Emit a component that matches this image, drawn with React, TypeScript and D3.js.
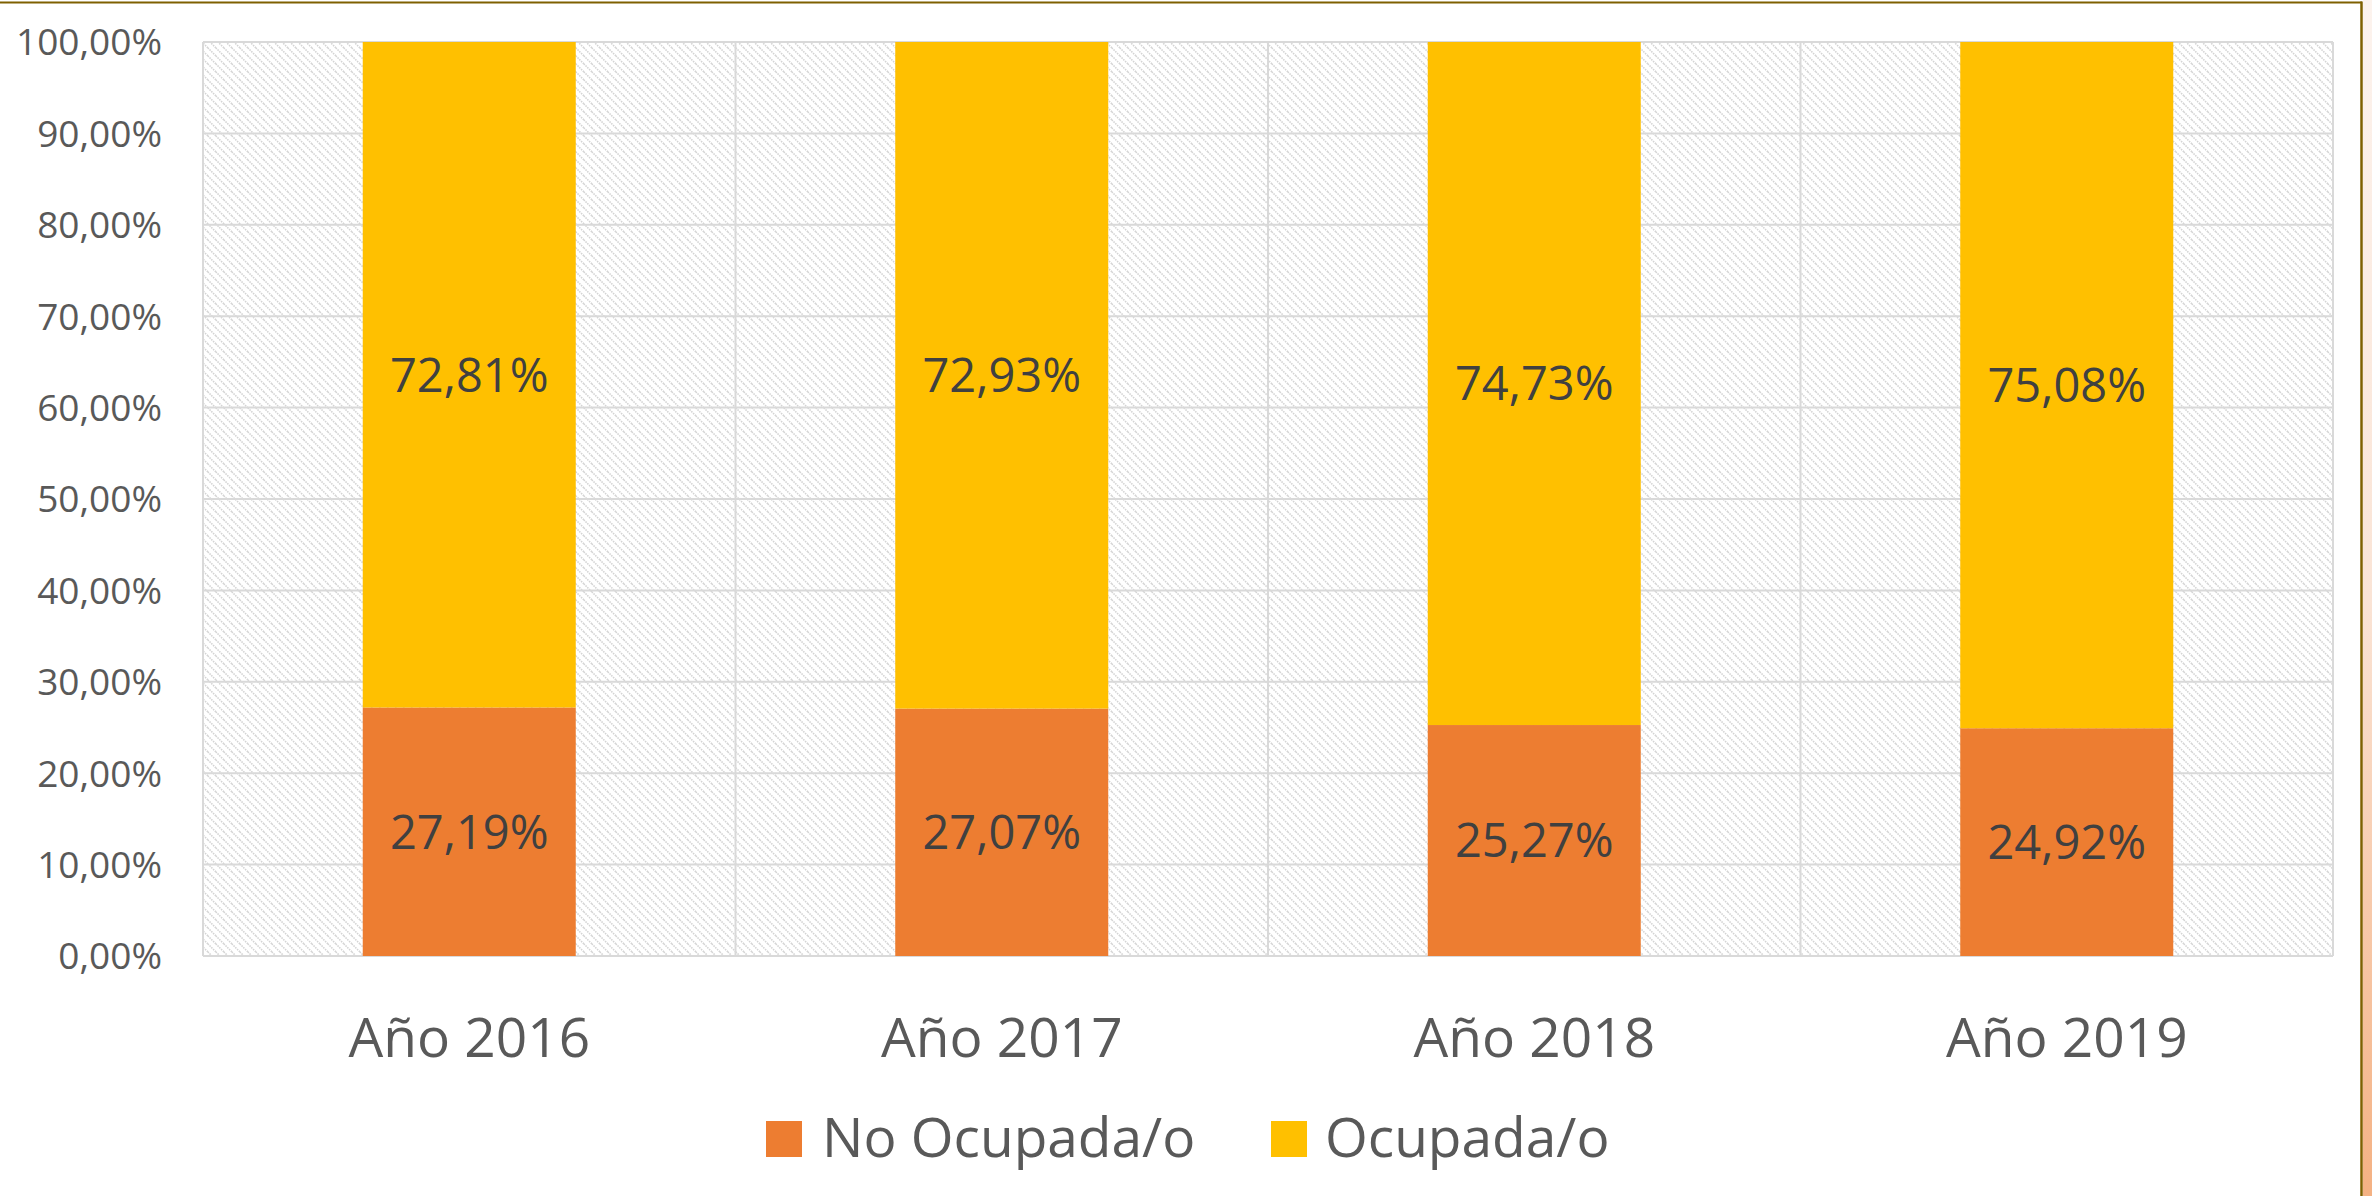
import React from "react";
import * as d3 from "d3";

const categories = ["Año 2016", "Año 2017", "Año 2018", "Año 2019"];
const noOcupada = [27.19, 27.07, 25.27, 24.92];
const ocupada = [72.81, 72.93, 74.73, 75.08];
const yTicks = [0, 10, 20, 30, 40, 50, 60, 70, 80, 90, 100];
const seriesNames = ["No Ocupada/o", "Ocupada/o"];

const W = 2372;
const H = 1196;
const plot = { left: 203, right: 2333, top: 42, bottom: 956 };
const COLORS = ["#ED7D31", "#FFC000"];
const FONT = "'Open Sans', sans-serif";

const fmt = (v: number) => v.toFixed(2).replace(".", ",") + "%";

export default function App() {
  const x = d3.scaleBand<string>().domain(categories).range([plot.left, plot.right]).paddingInner(0.6).paddingOuter(0.3);
  const xb = d3.scaleBand<string>().domain(categories).range([plot.left, plot.right]);
  const y = d3.scaleLinear().domain([0, 100]).range([plot.bottom, plot.top]);

  const stackData = categories.map((c, i) => ({ cat: c, a: noOcupada[i], b: ocupada[i] }));
  const stack = d3.stack<any>().keys(["a", "b"])(stackData);
  const values = [noOcupada, ocupada];

  return (
    <svg width={W} height={H} style={{ position: "absolute", left: 0, top: 0, background: "#fff" }}>
      <defs>
        <pattern id="hatch" patternUnits="userSpaceOnUse" width="8" height="8">
          <path d="M-2,-2 L10,10 M-2,6 L2,10 M6,-2 L10,2" stroke="#d4d4d4" strokeWidth="1.6" strokeDasharray="1.5 1" />
        </pattern>
        <linearGradient id="peach" x1="0" y1="0" x2="0" y2="1">
          <stop offset="0" stopColor="#fcf3ee" />
          <stop offset="0.5" stopColor="#fae4d6" />
          <stop offset="1" stopColor="#f4b183" />
        </linearGradient>
      </defs>
      <rect x={0} y={0} width={W} height={H} fill="#fff" />
      {/* outer frame */}
      <rect x={2363} y={0} width={9} height={H} fill="url(#peach)" />
      <line x1={0} x2={2362} y1={2.5} y2={2.5} stroke="#7f6000" strokeWidth={2} />
      <line x1={2361.5} x2={2361.5} y1={1.5} y2={H} stroke="#7f6000" strokeWidth={2.5} />

      {/* plot background */}
      <rect x={plot.left} y={plot.top} width={plot.right - plot.left} height={plot.bottom - plot.top} fill="url(#hatch)" />
      {yTicks.map((t) => (
        <line key={"g" + t} x1={plot.left} x2={plot.right} y1={y(t)} y2={y(t)} stroke="#d9d9d9" strokeWidth={2} />
      ))}
      {categories.map((c, i) => (
        <line key={"v" + i} x1={xb(c)!} x2={xb(c)!} y1={plot.top} y2={plot.bottom} stroke="#d9d9d9" strokeWidth={2} />
      ))}
      <line x1={plot.right} x2={plot.right} y1={plot.top} y2={plot.bottom} stroke="#d9d9d9" strokeWidth={2} />

      {/* bars */}
      {stack.map((s, si) =>
        s.map((d: any, i: number) => (
          <rect
            key={si + "-" + i}
            x={x(categories[i])!}
            width={x.bandwidth()}
            y={y(d[1])}
            height={y(d[0]) - y(d[1])}
            fill={COLORS[si]}
          />
        ))
      )}
      {/* data labels */}
      {stack.map((s, si) =>
        s.map((d: any, i: number) => (
          <text
            key={"l" + si + "-" + i}
            x={x(categories[i])! + x.bandwidth() / 2}
            y={(y(d[0]) + y(d[1])) / 2}
            dy="0.36em"
            textAnchor="middle"
            fontFamily={FONT}
            fontSize={47}
            fill="#404040"
          >
            {fmt(values[si][i])}
          </text>
        ))
      )}

      {/* y axis labels */}
      {yTicks.map((t) => (
        <text key={"y" + t} x={162} y={y(t)} dy="0.36em" textAnchor="end" fontFamily={FONT} fontSize={37} fill="#595959">
          {fmt(t)}
        </text>
      ))}
      {/* x axis labels */}
      {categories.map((c) => (
        <text key={"x" + c} x={xb(c)! + xb.bandwidth() / 2} y={1057} textAnchor="middle" fontFamily={FONT} fontSize={55} fill="#595959">
          {c}
        </text>
      ))}

      {/* legend */}
      {seriesNames.map((n, i) => {
        const sx = [766, 1271][i];
        const tx = [822, 1325][i];
        return (
          <g key={"lg" + i}>
            <rect x={sx} y={1121} width={36} height={36} fill={COLORS[i]} />
            <text x={tx} y={1157} fontFamily={FONT} fontSize={55} fill="#595959">
              {n}
            </text>
          </g>
        );
      })}
    </svg>
  );
}
